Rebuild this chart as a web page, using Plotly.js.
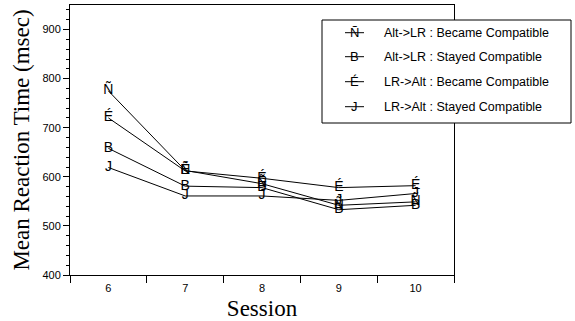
<!DOCTYPE html>
<html>
<head>
<meta charset="utf-8">
<script src="https://cdn.plot.ly/plotly-3.0.1.min.js"></script>
<style>html,body{margin:0;padding:0;background:#fff;}#chart{width:575px;height:321px;}</style>
</head>
<body>
<div id="chart"></div>
<script>
var sessions = [6, 7, 8, 9, 10];
var seriesNames = [
  "Alt->LR : Became Compatible",
  "Alt->LR : Stayed Compatible",
  "LR->Alt : Became Compatible",
  "LR->Alt : Stayed Compatible"
];
var seriesSymbols = ["Ñ", "B", "É", "J"];
var altLrBecame = [775, 613, 586, 542, 549];
var altLrStayed = [658, 581, 578, 533, 542];
var lrAltBecame = [720, 612, 597, 578, 582];
var lrAltStayed = [619, 561, 561, 552, 566];
var seriesValues = [altLrBecame, altLrStayed, lrAltBecame, lrAltStayed];

var sansFont = "Liberation Sans, Arial, sans-serif";
var serifFont = "Liberation Serif, Times New Roman, serif";

var traces = seriesValues.map(function (vals, i) {
  return {
    x: sessions.map(String),
    y: vals,
    name: seriesNames[i],
    mode: "lines+text",
    text: vals.map(function () { return seriesSymbols[i]; }),
    textposition: "middle center",
    textfont: {family: sansFont, size: 14, color: "#000"},
    line: {color: "#000", width: 1},
    showlegend: false,
    cliponaxis: false
  };
});

// custom legend box (paper coordinates, plot area 70..454 x 5..275 px)
var W = 384, H = 270, L = 70, T = 5;
function px(xp) { return (xp - L) / W; }
function py(yp) { return (T + H - yp) / H; }
var legendRowsY = [32.7, 56.7, 81.7, 106.7];

var shapes = [{
  type: "rect", xref: "paper", yref: "paper", layer: "above",
  x0: px(322), x1: px(571), y0: py(123), y1: py(20),
  line: {color: "#000", width: 1}, fillcolor: "#fff"
}];
var annotations = [];
seriesNames.forEach(function (nm, i) {
  var yy = py(legendRowsY[i]);
  shapes.push({
    type: "line", xref: "paper", yref: "paper", layer: "above",
    x0: px(345), x1: px(364), y0: yy, y1: yy,
    line: {color: "#000", width: 1}
  });
  annotations.push({
    xref: "paper", yref: "paper", x: px(354.5), y: yy, xanchor: "center", yanchor: "middle",
    text: seriesSymbols[i], showarrow: false, font: {family: sansFont, size: 13, color: "#000"}
  });
  annotations.push({
    xref: "paper", yref: "paper", x: px(382), y: yy, xanchor: "left", yanchor: "middle",
    text: nm, showarrow: false, font: {family: sansFont, size: 12.5, color: "#000"}
  });
});

var layout = {
  width: 575, height: 321,
  margin: {l: 70, r: 121, t: 5, b: 46},
  paper_bgcolor: "#fff", plot_bgcolor: "#fff",
  font: {family: sansFont, color: "#000", size: 11},
  showlegend: false,
  shapes: shapes,
  annotations: annotations,
  xaxis: {
    type: "category",
    range: [-0.5, 4.5],
    tickson: "boundaries",
    ticks: "outside", ticklen: 7, tickcolor: "#000",
    ticklabelstandoff: 3,
    showline: true, linecolor: "#000", linewidth: 1, mirror: true,
    showgrid: false, zeroline: false,
    tickfont: {size: 11},
    title: {text: "Session", font: {family: serifFont, size: 23}, standoff: 8}
  },
  yaxis: {
    range: [400, 950],
    dtick: 100, tick0: 400,
    ticks: "outside", ticklen: 6, tickcolor: "#000",
    minor: {dtick: 20, tick0: 400, ticks: "outside", ticklen: 3, tickcolor: "#000", showgrid: false},
    showline: true, linecolor: "#000", linewidth: 1, mirror: true,
    showgrid: false, zeroline: false,
    tickfont: {size: 11},
    title: {text: "Mean Reaction Time (msec)", font: {family: serifFont, size: 23}, standoff: 6}
  }
};

Plotly.newPlot("chart", traces, layout, {displayModeBar: false, staticPlot: true});
</script>
</body>
</html>
